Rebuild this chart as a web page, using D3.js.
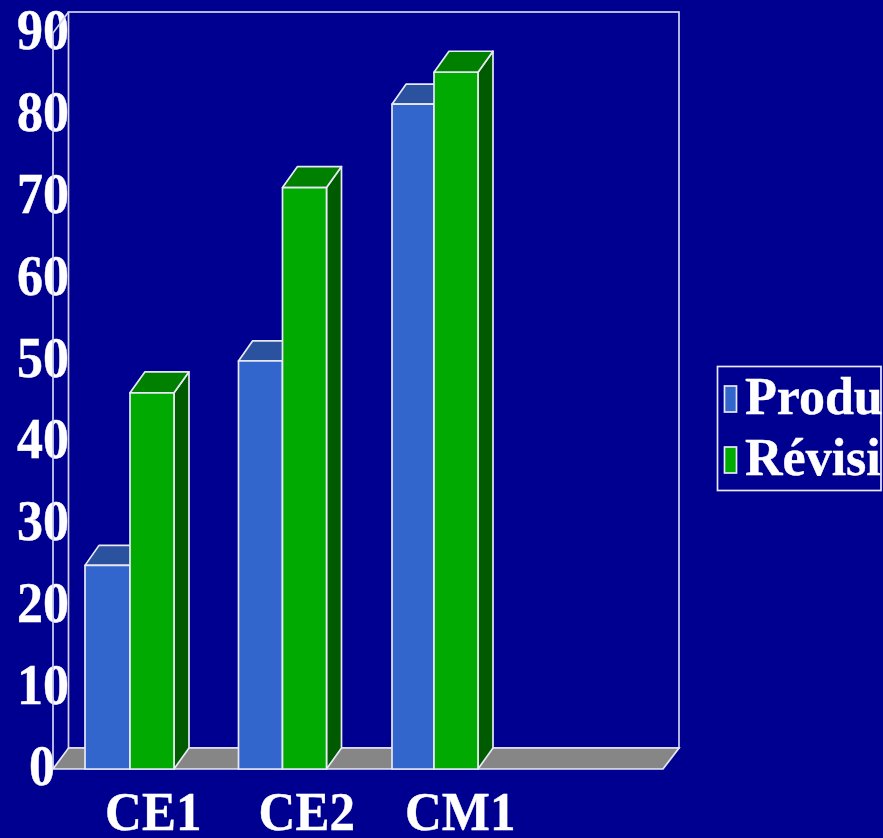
<!DOCTYPE html>
<html>
<head>
<meta charset="utf-8">
<script src="https://cdn.jsdelivr.net/npm/d3@7/dist/d3.min.js"></script>
<style>
  html, body { margin: 0; padding: 0; background: #000090; overflow: hidden; }
  svg { display: block; }
  text { font-family: "Liberation Serif", serif; font-weight: bold; fill: #fff; stroke: #fff; stroke-width: 0.4px; }
</style>
</head>
<body>
<svg id="chart" width="883" height="838"></svg>
<script>
const categories = ["CE1", "CE2", "CM1"];
const slots = ["CE1", "CE2", "CM1", "-"];      // the fourth slot stays empty
const production = [24.9, 49.9, 81.3];
const revision = [46, 71.1, 85.2];
const yTicks = [0, 10, 20, 30, 40, 50, 60, 70, 80, 90];
const legendLabels = ["Produ", "Révisi"];

const colors = {
  line: "#e8e8f6", wall: "#d4d4f2", floor: "#868686",
  blue: ["#3366cc", "#2b529e", "#1f3f80"],
  green: ["#00aa00", "#008000", "#005a00"]
};

const svg = d3.select("#chart");
const plot = { left: 53, right: 663, top: 33, bottom: 769, dx: 16, dy: 21 };
const strokeW = 1.7;
const stretch = "scale(1,1.08)";               // axis labels are slightly taller than regular type

const y = d3.scaleLinear().domain([0, 90]).range([plot.bottom, plot.top]);
const x = d3.scaleBand().domain(slots).range([85, 85 + 614]);
const pairWidth = d3.scaleOrdinal().domain(categories).range([89, 88, 86]);
const greenWidth = 44;

const pts = p => p.map(d => d.join(",")).join(" ");

// Tick labels sit underneath the wall lines
const yAxis = d3.axisLeft(y).tickValues(yTicks).tickSize(0).tickPadding(0);
svg.append("g").attr("transform", `translate(${plot.left + 16},-2)`).call(yAxis)
  .call(g => g.select(".domain").remove())
  .selectAll("text")
  .attr("x", d => d === 0 ? -14 : 0)
  .attr("transform", stretch)
  .style("font-size", "52px");

const xAxis = d3.axisBottom(x).tickValues(categories).tickSize(0).tickPadding(0);
svg.append("g").attr("transform", `translate(0,${plot.bottom + 22})`).call(xAxis)
  .call(g => g.select(".domain").remove())
  .selectAll("text")
  .attr("x", -8.5)
  .attr("transform", stretch)
  .style("font-size", "51px");

// Back wall and left wall outlines
const wall = svg.append("g").attr("fill", "none").attr("stroke", colors.wall).attr("stroke-width", strokeW);
wall.append("rect")
  .attr("x", plot.left + plot.dx - 0.5).attr("y", plot.top - plot.dy)
  .attr("width", plot.right - plot.left + 0.5).attr("height", plot.bottom - plot.top);
wall.append("polyline")
  .attr("points", pts([[plot.left + plot.dx - 0.5, plot.top - plot.dy], [plot.left, plot.top], [plot.left, plot.bottom]]));

// Floor
svg.append("polygon")
  .attr("points", pts([
    [plot.left, plot.bottom], [plot.left + plot.dx - 0.5, plot.bottom - plot.dy],
    [plot.right + plot.dx, plot.bottom - plot.dy], [plot.right, plot.bottom]
  ]))
  .attr("fill", colors.floor).attr("stroke", colors.line).attr("stroke-width", strokeW);

// One 3D bar: front face, top face, right side
function bar(g, x0, x1, value, shades, ddx, ddy) {
  const t = y(value), b = y(0);
  g.append("polygon").attr("points", pts([[x1, t], [x1 + ddx, t - ddy], [x1 + ddx, b - ddy], [x1, b]]))
    .attr("fill", shades[2]);
  g.append("polygon").attr("points", pts([[x0, t], [x0 + ddx, t - ddy], [x1 + ddx, t - ddy], [x1, t]]))
    .attr("fill", shades[1]);
  g.append("rect").attr("x", x0).attr("y", t).attr("width", x1 - x0).attr("height", b - t)
    .attr("fill", shades[0]);
}

const bars = svg.append("g").attr("stroke", colors.line).attr("stroke-width", strokeW).attr("stroke-linejoin", "round");
categories.forEach((c, i) => {
  const g = bars.append("g");
  const x0 = x(c), x2 = x0 + pairWidth(c), x1 = x2 - greenWidth;
  bar(g, x0, x1, production[i], colors.blue, 14, 20);
  bar(g, x1, x2, revision[i], colors.green, 15, 21);
});

// Legend, cut off by the page edge
const legend = svg.append("g");
legend.append("rect").attr("x", 717.5).attr("y", 366.5).attr("width", 163.5).attr("height", 124)
  .attr("fill", "none").attr("stroke", colors.line).attr("stroke-width", strokeW);
[colors.blue[0], colors.green[0]].forEach((fill, i) => {
  const top = 386 + i * 61;
  legend.append("rect").attr("x", 724.5).attr("y", top).attr("width", 12).attr("height", 26)
    .attr("fill", fill).attr("stroke", colors.line).attr("stroke-width", strokeW);
  legend.append("text").attr("x", 745).attr("y", 413.5 + i * 61.5)
    .style("font-size", "52px").text(legendLabels[i]);
});
</script>
</body>
</html>
